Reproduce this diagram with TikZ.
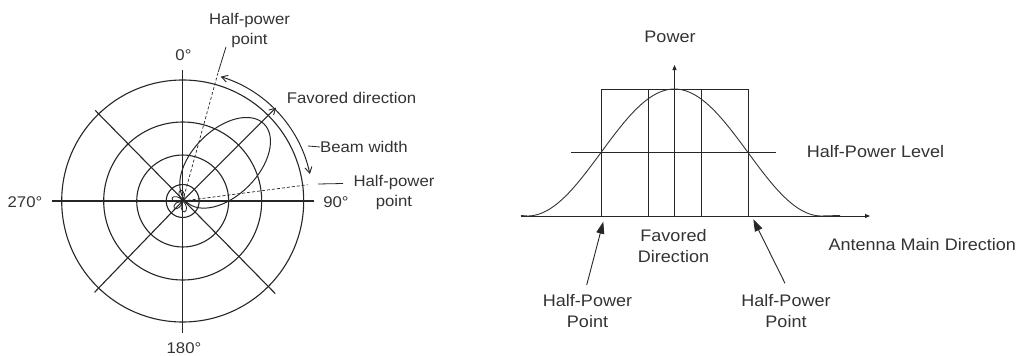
\documentclass[tikz,border=0pt]{standalone}
\usepackage{fontspec}
\setmainfont{Liberation Sans}[FakeStretch=1.08]
\usetikzlibrary{arrows.meta}
\begin{document}
\begin{tikzpicture}[x=1pt,y=-1pt,
  lbl/.style={text=black!80, inner sep=0pt, font=\fontsize{15.5}{20.5}\selectfont, align=center},
  rlbl/.style={text=black!80, inner sep=0pt, font=\fontsize{16.7}{21}\selectfont, align=center},
  gridline/.style={line width=1.1pt, black!85},
  plotline/.style={line width=0.9pt, black!85},
  leader/.style={line width=0.8pt, black!85},
  dashleader/.style={line width=0.7pt, black!85, densely dashed},
  barb/.style={-{Straight Barb[length=6pt,width=7pt,line width=0.9pt]}},
  barbs/.style={{Straight Barb[length=6pt,width=7pt,line width=0.9pt]}-{Straight Barb[length=6pt,width=7pt,line width=0.9pt]}},
  bigtip/.style={-{Triangle[length=12pt,width=8pt]}},
  axtip/.style={-{Triangle[length=5pt,width=4pt]}}]
\useasboundingbox (0,0) rectangle (1018,356);

% ---------------- left: polar pattern ----------------
\begin{scope}[shift={(182.7,201)}, yscale=-1]
  \coordinate (O) at (0,0);
  \foreach \r in {121,79,46,16.5} \draw[gridline] (O) circle[radius=\r];
  \coordinate (W) at (180:131);
  \coordinate (E) at (0:131);
  \coordinate (N) at (90:131);
  \coordinate (S) at (270:132);
  \coordinate (NW) at (134:126);
  \coordinate (SE) at (-45:131);
  \coordinate (SW) at (226:127);
  \coordinate (NE) at (45:132);
  \draw[gridline] (W) -- (E);
  \draw[gridline] (S) -- (N);
  \draw[gridline] (NW) -- (SE);
  \draw[gridline] (SW) -- (O);
  \draw[gridline, barb] (O) -- (NE);
  % main lobe
  \draw[line width=1pt, black!85, rotate=-45] (57,-3) ellipse[x radius=55, y radius=33];
  % small lobes near the origin
  \foreach \a in {100,165,220,280}
    \draw[line width=0.8pt, black!85, rotate=-\a] (O) .. controls (4,4) and (11,3) .. (11,0) .. controls (11,-3) and (4,-4) .. (O);
  % half-power leaders
  \coordinate (hpA) at (74.6:134);
  \coordinate (hpAend) at (74.3:160);
  \coordinate (hpB) at (7.4:126);
  \draw[dashleader] (O) -- (hpA);
  \draw[leader] (hpA) -- (hpAend);
  \draw[dashleader] (O) -- (hpB);
  % beam width arc
  \coordinate (bwA) at (73:130);
  \draw[leader, line width=1pt, barbs] (bwA) arc[start angle=73, end angle=12, radius=130];
\end{scope}

\node[lbl] (hptop) at (249.5,30.5) {Half-power\\point};
\node[lbl] (deg0) at (183.5,55) {0°};
\node[lbl, anchor=west] (fav) at (286.7,98) {Favored direction};
\node[lbl, anchor=west] (bw) at (320,147) {Beam width};
\node[lbl] (hpright) at (394,192.5) {Half-power\\point};
\node[lbl] (deg270) at (25,201.7) {270°};
\node[lbl] (deg90) at (336,201.7) {90°};
\node[lbl] (deg180) at (184,348) {180°};
\coordinate (bwl) at (308,146);
\draw[leader] (bwl) -- (bw.west);
\coordinate (hpl1) at (318,184);
\coordinate (hpl2) at (343,183.5);
\draw[leader] (hpl1) -- (hpl2);

% ---------------- right: power curve ----------------
\coordinate (base0) at (521,216);
\coordinate (baseEnd) at (870,216);
\coordinate (ax0) at (674.5,216);
\coordinate (axTop) at (674.5,65);
\draw[plotline, axtip] (base0) -- (baseEnd);
\draw[plotline, axtip] (ax0) -- (axTop);
\draw[plotline] (601.5,89) rectangle (748.5,216);
\draw[plotline] (648.3,89) -- (648.3,216);
\draw[plotline] (701.5,89) -- (701.5,216);
\coordinate (hlA) at (571,152.7);
\coordinate (hlB) at (776,152.7);
\draw[plotline] (hlA) -- (hlB);
\draw[line width=0.9pt, black!80] (521,215.5) -- plot[domain=-147:147, samples=121, smooth] ({674.5+\x},{216-127*cos(\x*90/147)^2}) -- (840,215.5);

\node[rlbl] (power) at (670,36.7) {Power};
\node[rlbl, anchor=west] (hplev) at (806.7,151.7) {Half-Power Level};
\node[rlbl, anchor=west] (amd) at (828.3,245) {Antenna Main Direction};
\node[rlbl] (favdir) at (673.5,246) {Favored\\Direction};
\node[rlbl] (hpL) at (587.5,311.5) {Half-Power\\Point};
\node[rlbl] (hpR) at (786,311.5) {Half-Power\\Point};
\coordinate (tipL) at (603.3,221.7);
\coordinate (tipR) at (753.3,219.3);
\coordinate (fromL) at (586.7,285);
\coordinate (fromR) at (785,283.3);
\draw[plotline, bigtip] (fromL) -- (tipL);
\draw[plotline, bigtip] (fromR) -- (tipR);
\end{tikzpicture}
\end{document}
